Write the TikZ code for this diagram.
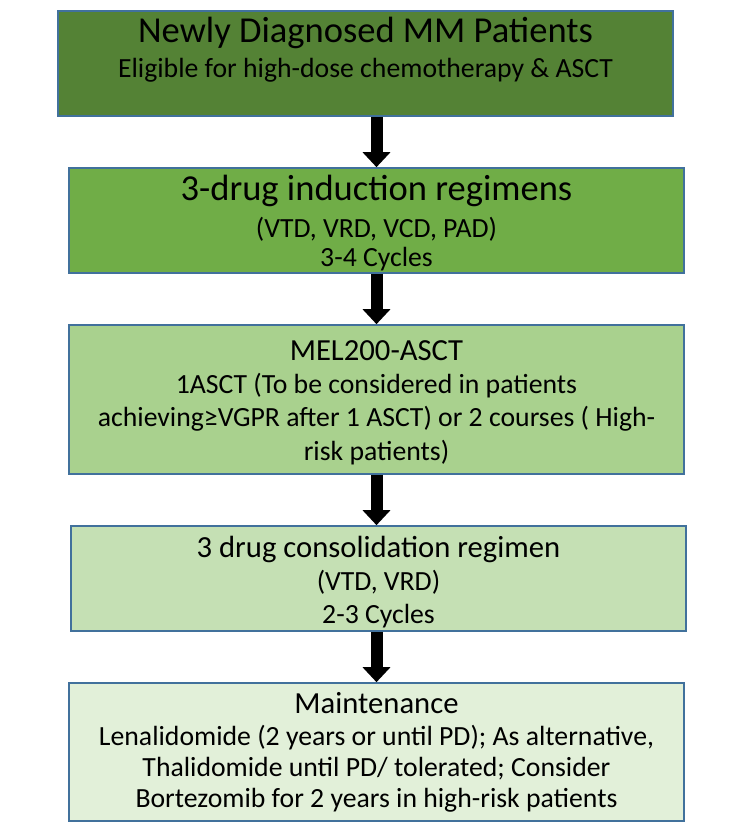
\documentclass[tikz,border=0pt]{standalone}
\usepackage{fontspec}
\setmainfont{Carlito}
\usetikzlibrary{arrows.meta}
\definecolor{edge}{HTML}{41719C}
\definecolor{gA}{HTML}{548235}
\definecolor{gB}{HTML}{70AD47}
\definecolor{gC}{HTML}{A9D18E}
\definecolor{gD}{HTML}{C5E0B4}
\definecolor{gE}{HTML}{E2F0D9}
\tikzset{
  x=0.75pt, y=-0.75pt,
  stage/.style={draw=edge, line width=1.2pt, rectangle, inner sep=0pt,
    minimum width=461.25pt},
  big/.style={anchor=base, inner sep=0pt, font=\fontsize{27.4pt}{30pt}\selectfont},
  mid/.style={anchor=base, inner sep=0pt, font=\fontsize{23pt}{26pt}\selectfont},
  body/.style={anchor=base, inner sep=0pt, font=\fontsize{20.8pt}{24pt}\selectfont},
  flow/.style={line width=9pt, -{Triangle[width=20.25pt,length=11.25pt]}}
}
\begin{document}
\begin{tikzpicture}
\useasboundingbox (0,0) rectangle (750,836);

% stages
\node[stage, fill=gA, minimum height=78.75pt] (b1) at (365.5,63.5) {};
\node[stage, fill=gB, minimum height=78.75pt] (b2) at (376.5,220.5) {};
\node[stage, fill=gC, minimum height=111.75pt] (b3) at (376.5,399.5) {};
\node[stage, fill=gD, minimum height=78.75pt] (b4) at (378.5,578.5) {};
\node[stage, fill=gE, minimum height=103.5pt] (b5) at (376.5,752) {};

% stage texts
\node[big] (t1a) at (365.5,42) {Newly Diagnosed MM Patients};
\node[body] (t1b) at (365.5,77) {Eligible for high-dose chemotherapy \& ASCT};

\node[big] (t2a) at (376.5,200) {3-drug induction regimens};
\node[body] (t2b) at (376.5,237) {(VTD, VRD, VCD, PAD)};
\node[body] (t2c) at (376.5,266) {3-4 Cycles};

\node[mid] (t3a) at (376.5,360) {MEL200-ASCT};
\node[body] (t3b) at (376.5,393) {1ASCT (To be considered in patients};
\node[body] (t3c) at (376.5,426) {achieving≥VGPR after 1 ASCT) or 2 courses ( High-};
\node[body] (t3d) at (376.5,460) {risk patients)};

\node[mid] (t4a) at (378.5,557) {3 drug consolidation regimen};
\node[body] (t4b) at (378.5,590) {(VTD, VRD)};
\node[body] (t4c) at (378.5,623) {2-3 Cycles};

\node[mid] (t5a) at (376.5,713) {Maintenance};
\node[body] (t5b) at (376.5,745) {Lenalidomide (2 years or until PD); As alternative,};
\node[body] (t5c) at (376.5,776) {Thalidomide until PD/ tolerated; Consider};
\node[body] (t5d) at (376.5,807) {Bortezomib for 2 years in high-risk patients};

% connectors
\draw[flow] (b2.north |- b1.south) -- (b2.north);
\draw[flow] (b2.south) -- (b3.north);
\draw[flow] (b3.south) -- (b3.south |- b4.north);
\draw[flow] (b5.north |- b4.south) -- (b5.north);
\end{tikzpicture}
\end{document}
